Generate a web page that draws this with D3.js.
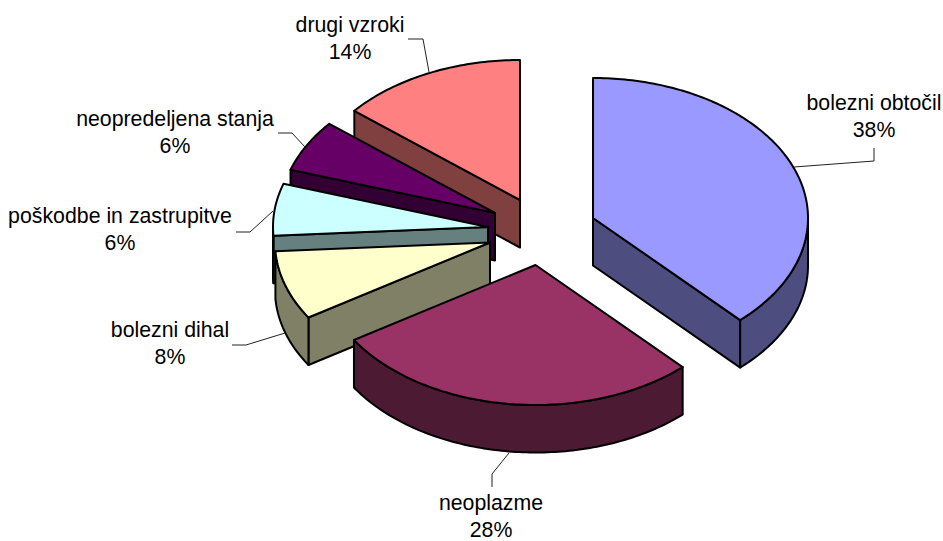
<!DOCTYPE html>
<html>
<head>
<meta charset="utf-8">
<script src="https://cdn.jsdelivr.net/npm/d3@7/dist/d3.min.js"></script>
<style>
html,body{margin:0;padding:0;background:#fff;}
svg{display:block;}
text{font-family:"Liberation Sans",Arial,sans-serif;font-size:21.3px;fill:#000;text-anchor:middle;}
</style>
</head>
<body>
<svg id="chart" width="943" height="541"></svg>
<script>
// Data
const categories = ["bolezni obtočil","neoplazme","bolezni dihal","poškodbe in zastrupitve","neopredeljena stanja","drugi vzroki"];
const values = [38,28,8,6,6,14];
const topColors = ["#9999FF","#993366","#FFFFCC","#CCFFFF","#660066","#FF8080"];
const sideColors = ["#4D4D80","#4D1A33","#808066","#668080","#330033","#804040"];

// Layout of the exploded 3D pie
const apexX = [593,535.5,490,488,495,520];
const apexY = [218,265,242.5,227,213,200];
const radiusX = 215, radiusY = 140, depth = 47.5;
const drawOrder = [5,4,3,2,0,1];
const labelX = [874,491,170,120,175,350];
const labelY = [110,509.5,337,223,126,32];
const lineGap = 27;
const leaders = [
  [[874,148],[874,161],[794,167]],
  [[492,487],[492,474],[509,453]],
  [[232,345],[246,345],[285,333]],
  [[236,232],[250,232],[273,211]],
  [[278,133],[292,133],[305,147]],
  [[408,39],[423,39],[429,72]]
];

const svg = d3.select("#chart");
const total = d3.sum(values);
const arcs = d3.pie().sort(null).value(d => d)(values);
const px = d3.scaleLinear().domain([-1,1]).range([-radiusX,radiusX]);
const py = d3.scaleLinear().domain([-1,1]).range([-radiusY,radiusY]);
const line = d3.line();
const strokeW = 2;

function pt(i, a, dz) {
  return [apexX[i] + px(Math.sin(a)), apexY[i] - py(Math.cos(a)) + (dz || 0)];
}
function sweep(i, a0, a1, dz) {
  const n = Math.max(2, Math.ceil((a1 - a0) * 60));
  return d3.range(n + 1).map(k => pt(i, a0 + (a1 - a0) * k / n, dz));
}
function shape(points, fill) {
  svg.append("path").attr("d", line(points) + "Z")
    .attr("fill", fill).attr("stroke", "#000")
    .attr("stroke-width", strokeW).attr("stroke-linejoin", "round");
}

drawOrder.forEach(i => {
  const {startAngle: a0, endAngle: a1} = arcs[i];
  const c = [apexX[i], apexY[i]];
  const mid = pt(i, (a0 + a1) / 2);
  // radial cut faces that look towards the viewer
  [a0, a1].forEach(a => {
    const p = pt(i, a);
    if (Math.abs(p[0] - c[0]) < 1e-6) return;
    const yOnEdge = c[1] + (p[1] - c[1]) * (mid[0] - c[0]) / (p[0] - c[0]);
    if (mid[1] < yOnEdge) {
      shape([c, p, [p[0], p[1] + depth], [c[0], c[1] + depth]], sideColors[i]);
    }
  });
  // outer rim between 90° and 270°
  const r0 = Math.max(a0, Math.PI / 2), r1 = Math.min(a1, Math.PI * 1.5);
  if (r1 > r0) {
    shape(sweep(i, r0, r1, 0).concat(sweep(i, r0, r1, depth).reverse()), sideColors[i]);
  }
  // top face
  shape([c].concat(sweep(i, a0, a1, 0)), topColors[i]);
});

leaders.forEach(l => {
  svg.append("path").attr("d", line(l)).attr("fill", "none")
    .attr("stroke", "#222").attr("stroke-width", 1);
});

categories.forEach((name, i) => {
  svg.append("text").attr("x", labelX[i]).attr("y", labelY[i]).text(name);
  svg.append("text").attr("x", labelX[i]).attr("y", labelY[i] + lineGap)
    .text(d3.format(".0f")(values[i] / total * 100) + "%");
});
</script>
</body>
</html>
